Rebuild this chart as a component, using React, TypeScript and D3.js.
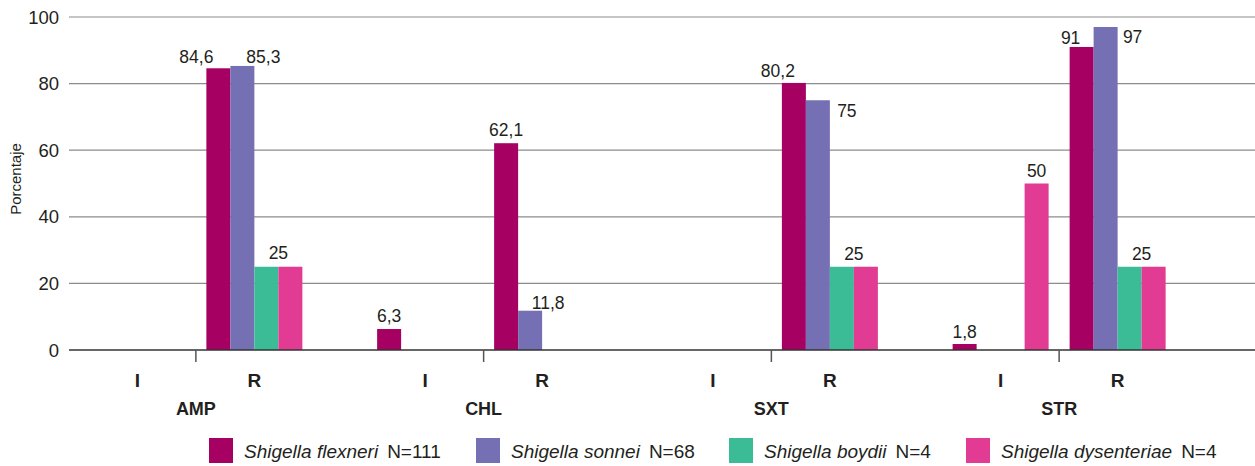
import React, { useEffect, useRef } from "react";
import * as d3 from "d3";

const width = 1255;
const height = 466;
const font = "'Liberation Sans', Arial, sans-serif";
const ink = "#231f20";

// data
const groups = ["AMP", "CHL", "SXT", "STR"];
const levels = ["I", "R"];
const yTicks = [0, 20, 40, 60, 80, 100];
const seriesNames = ["Shigella flexneri", "Shigella sonnei", "Shigella boydii", "Shigella dysenteriae"];
const seriesN = ["N=111", "N=68", "N=4", "N=4"];
// one value per group x level: AMP-I, AMP-R, CHL-I, CHL-R, SXT-I, SXT-R, STR-I, STR-R
const flexneri = [null, 84.6, 6.3, 62.1, null, 80.2, 1.8, 91];
const sonnei = [null, 85.3, null, 11.8, null, 75, null, 97];
const boydii = [null, 25, null, null, null, 25, null, 25];
const dysenteriae = [null, 25, null, null, null, 25, 50, 25];
const seriesValues = [flexneri, sonnei, boydii, dysenteriae];

const colors = ["#a60063", "#7570b3", "#3bbb96", "#e23b94"];
const legendX = [209, 476, 729, 966];

// where each value label sits: [dx from bar centre, dy from bar top]
const labelOffsets: Record<string, [number, number]> = {
  "0-1": [-22, -5],
  "1-1": [21, -3],
  "2-1": [12, -8],
  "0-2": [0, -7],
  "0-3": [0, -7],
  "1-3": [18, -2],
  "0-5": [-16, -6],
  "1-5": [29, 17],
  "2-5": [12, -7],
  "0-6": [0, -6],
  "3-6": [0, -7],
  "0-7": [-11, -3],
  "1-7": [27, 16],
  "2-7": [12, -7],
};

const fmt = (v: number) => String(v).replace(".", ",");

export default function App() {
  const ref = useRef<SVGSVGElement>(null);

  useEffect(() => {
    const svg = d3.select(ref.current);
    svg.selectAll("*").remove();

    const plotLeft = 69;
    const y = d3.scaleLinear().domain([0, 100]).range([350, 17]);
    const x0 = d3.scaleBand().domain(groups).range([52, 1203]);
    const gw = x0.bandwidth();
    const x1 = d3.scaleBand().domain(levels).range([gw / 2 - 117, gw / 2 + 117]);
    const lw = x1.bandwidth();
    const x2 = d3
      .scaleBand()
      .domain(seriesNames)
      .range([lw / 2 - 48, lw / 2 + 48]);

    // grid
    svg
      .append("g")
      .selectAll("line")
      .data(yTicks.filter((t) => t > 0))
      .join("line")
      .attr("x1", plotLeft)
      .attr("x2", width)
      .attr("y1", (d) => y(d))
      .attr("y2", (d) => y(d))
      .attr("stroke", "#8c8c8c")
      .attr("stroke-width", 1.2);

    svg
      .append("g")
      .selectAll("text")
      .data(yTicks)
      .join("text")
      .attr("x", 59)
      .attr("y", (d) => y(d))
      .attr("dy", "0.36em")
      .attr("text-anchor", "end")
      .attr("font-family", font)
      .attr("font-size", 18.5)
      .attr("fill", ink)
      .text((d) => d);

    svg
      .append("text")
      .attr("transform", `translate(16,179) rotate(-90)`)
      .attr("dy", "0.36em")
      .attr("text-anchor", "middle")
      .attr("font-family", font)
      .attr("font-size", 15)
      .attr("fill", ink)
      .text("Porcentaje");

    // bars
    const cells = groups.flatMap((g, gi) => levels.map((l, li) => ({ g, l, idx: gi * 2 + li })));
    seriesNames.forEach((s, si) => {
      const rows = cells.filter((c) => seriesValues[si][c.idx] != null);
      svg
        .append("g")
        .selectAll("rect")
        .data(rows)
        .join("rect")
        .attr("x", (c) => (x0(c.g) as number) + (x1(c.l) as number) + (x2(s) as number))
        .attr("width", x2.bandwidth())
        .attr("y", (c) => y(seriesValues[si][c.idx] as number))
        .attr("height", (c) => y(0) - y(seriesValues[si][c.idx] as number))
        .attr("fill", colors[si]);

      const labelled = rows.filter((c) => labelOffsets[`${si}-${c.idx}`]);
      svg
        .append("g")
        .selectAll("text")
        .data(labelled)
        .join("text")
        .attr("x", (c) => {
          const cx = (x0(c.g) as number) + (x1(c.l) as number) + (x2(s) as number) + x2.bandwidth() / 2;
          return cx + labelOffsets[`${si}-${c.idx}`][0];
        })
        .attr("y", (c) => y(seriesValues[si][c.idx] as number) + labelOffsets[`${si}-${c.idx}`][1])
        .attr("text-anchor", "middle")
        .attr("font-family", font)
        .attr("font-size", 17.5)
        .attr("fill", ink)
        .text((c) => fmt(seriesValues[si][c.idx] as number));
    });

    // axis line and category ticks
    svg
      .append("line")
      .attr("x1", plotLeft)
      .attr("x2", width)
      .attr("y1", y(0))
      .attr("y2", y(0))
      .attr("stroke", "#333")
      .attr("stroke-width", 1.5);

    svg
      .append("g")
      .selectAll("line")
      .data(groups)
      .join("line")
      .attr("x1", (g) => (x0(g) as number) + gw / 2)
      .attr("x2", (g) => (x0(g) as number) + gw / 2)
      .attr("y1", y(0))
      .attr("y2", y(0) + 12)
      .attr("stroke", "#555")
      .attr("stroke-width", 1.5);

    svg
      .append("g")
      .selectAll("text")
      .data(cells)
      .join("text")
      .attr("x", (c) => (x0(c.g) as number) + (x1(c.l) as number) + lw / 2)
      .attr("y", 387)
      .attr("text-anchor", "middle")
      .attr("font-family", font)
      .attr("font-weight", "bold")
      .attr("font-size", 19)
      .attr("fill", ink)
      .text((c) => c.l);

    svg
      .append("g")
      .selectAll("text")
      .data(groups)
      .join("text")
      .attr("x", (g) => (x0(g) as number) + gw / 2)
      .attr("y", 415)
      .attr("text-anchor", "middle")
      .attr("font-family", font)
      .attr("font-weight", "bold")
      .attr("font-size", 18)
      .attr("fill", ink)
      .text((g) => g);

    // legend
    seriesNames.forEach((s, si) => {
      const item = svg.append("g").attr("transform", `translate(${legendX[si]},438)`);
      item.append("rect").attr("width", 24).attr("height", 25).attr("fill", colors[si]);
      const t = item
        .append("text")
        .attr("x", 35)
        .attr("y", 20)
        .attr("font-family", font)
        .attr("font-size", 19)
        .attr("fill", ink);
      t.append("tspan").attr("font-style", "italic").text(s);
      t.append("tspan").attr("dx", 9).text(seriesN[si]);
    });
  }, []);

  return (
    <svg
      ref={ref}
      width={width}
      height={height}
      style={{ position: "absolute", left: 0, top: 0, background: "#fff" }}
    />
  );
}
